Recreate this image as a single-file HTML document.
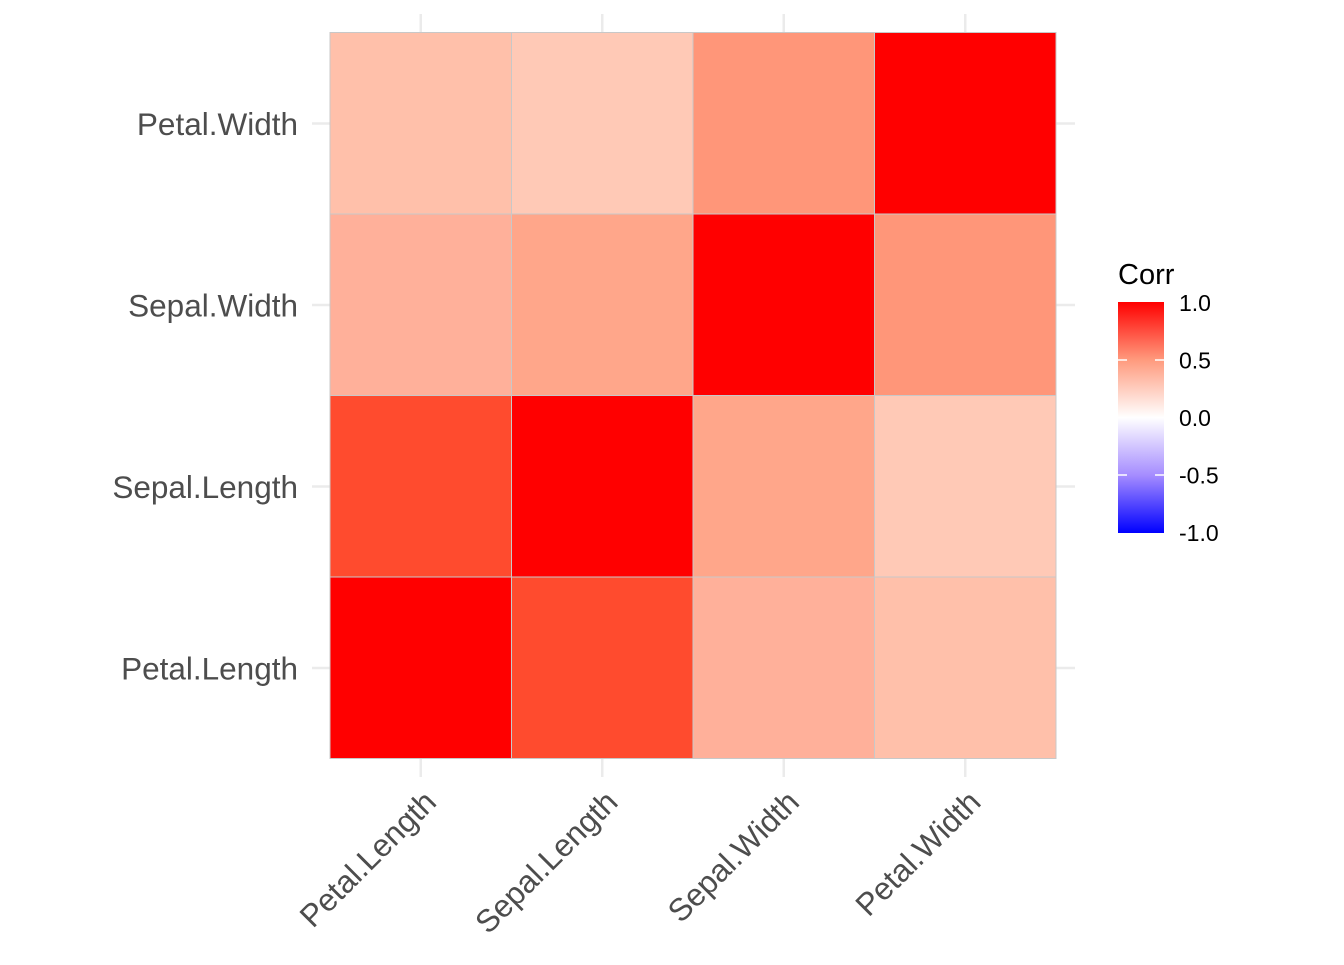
<!DOCTYPE html>
<html><head><meta charset="utf-8"><style>body{margin:0;background:#fff}</style></head><body>
<svg width="1344" height="960" xmlns="http://www.w3.org/2000/svg" font-family="Liberation Sans, sans-serif">
<defs><linearGradient id="g" x1="0" y1="1" x2="0" y2="0">
<stop offset="0" stop-color="#0000ff"/><stop offset="0.25" stop-color="#a58cff"/><stop offset="0.5" stop-color="#ffffff"/><stop offset="0.75" stop-color="#ff9a7d"/><stop offset="1" stop-color="#ff0000"/></linearGradient></defs>
<g stroke="#ebebeb" stroke-width="2.5">
<line x1="420.75" y1="14" x2="420.75" y2="777"/><line x1="602.25" y1="14" x2="602.25" y2="777"/><line x1="783.75" y1="14" x2="783.75" y2="777"/><line x1="965.25" y1="14" x2="965.25" y2="777"/>
<line x1="312" y1="123.5" x2="1075" y2="123.5"/><line x1="312" y1="305" x2="1075" y2="305"/><line x1="312" y1="486.5" x2="1075" y2="486.5"/><line x1="312" y1="668" x2="1075" y2="668"/>
</g>
<g stroke="#c8c8c8" stroke-width="1">
<rect x="330" y="32.5" width="181.5" height="181.5" fill="#ffc0aa"/>
<rect x="511.5" y="32.5" width="181.5" height="181.5" fill="#ffc9b6"/>
<rect x="693" y="32.5" width="181.5" height="181.5" fill="#ff9679"/>
<rect x="874.5" y="32.5" width="181.5" height="181.5" fill="#ff0000"/>
<rect x="330" y="214" width="181.5" height="181.5" fill="#ffb09a"/>
<rect x="511.5" y="214" width="181.5" height="181.5" fill="#ffa68a"/>
<rect x="693" y="214" width="181.5" height="181.5" fill="#ff0000"/>
<rect x="874.5" y="214" width="181.5" height="181.5" fill="#ff9679"/>
<rect x="330" y="395.5" width="181.5" height="181.5" fill="#ff4b2e"/>
<rect x="511.5" y="395.5" width="181.5" height="181.5" fill="#ff0000"/>
<rect x="693" y="395.5" width="181.5" height="181.5" fill="#ffa68a"/>
<rect x="874.5" y="395.5" width="181.5" height="181.5" fill="#ffc9b6"/>
<rect x="330" y="577" width="181.5" height="181.5" fill="#ff0000"/>
<rect x="511.5" y="577" width="181.5" height="181.5" fill="#ff4b2e"/>
<rect x="693" y="577" width="181.5" height="181.5" fill="#ffb09a"/>
<rect x="874.5" y="577" width="181.5" height="181.5" fill="#ffc0aa"/>
</g>
<g fill="#4d4d4d" font-size="31.5" text-anchor="end">
<text x="298" y="135">Petal.Width</text>
<text x="298" y="316.5">Sepal.Width</text>
<text x="298" y="498">Sepal.Length</text>
<text x="298" y="679.5">Petal.Length</text>
<text transform="translate(438,804) rotate(-45)">Petal.Length</text>
<text transform="translate(619.5,804) rotate(-45)">Sepal.Length</text>
<text transform="translate(801,804) rotate(-45)">Sepal.Width</text>
<text transform="translate(982.5,804) rotate(-45)">Petal.Width</text>
</g>
<text x="1118" y="284" font-size="29" fill="#000">Corr</text>
<rect x="1118" y="302" width="46" height="231" fill="url(#g)"/>
<g stroke="#fff" stroke-width="1.5">
<line x1="1118" y1="360" x2="1127" y2="360"/><line x1="1155" y1="360" x2="1164" y2="360"/>
<line x1="1118" y1="417.5" x2="1127" y2="417.5"/><line x1="1155" y1="417.5" x2="1164" y2="417.5"/>
<line x1="1118" y1="475" x2="1127" y2="475"/><line x1="1155" y1="475" x2="1164" y2="475"/>
</g>
<g font-size="23" fill="#000">
<text x="1179" y="311">1.0</text><text x="1179" y="368.5">0.5</text><text x="1179" y="426">0.0</text><text x="1179" y="483.5">-0.5</text><text x="1179" y="541">-1.0</text>
</g>
</svg>
</body></html>
